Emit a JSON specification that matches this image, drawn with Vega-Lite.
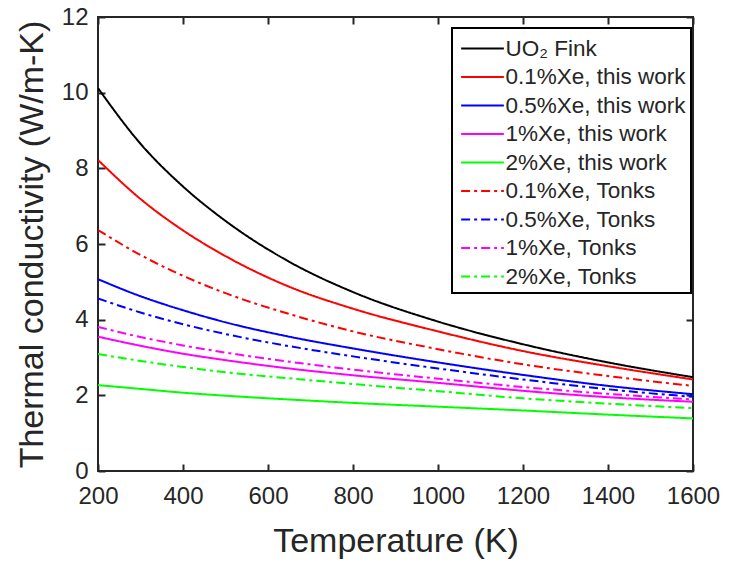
{
  "$schema": "https://vega.github.io/schema/vega-lite/v6.json",
  "width": 595,
  "height": 454,
  "autosize": "none",
  "padding": {"left": 98, "top": 17, "right": 48, "bottom": 96},
  "background": "white",
  "config": {
    "font": "Liberation Sans",
    "view": {"stroke": "#262626", "strokeWidth": 2},
    "axis": {
      "grid": false,
      "domain": false,
      "ticks": true,
      "tickColor": "#262626",
      "tickWidth": 2,
      "labelColor": "#262626",
      "titleColor": "#262626",
      "labelFontSize": 24,
      "titleFontSize": 34,
      "titleFontWeight": "normal",
      "labelOverlap": false,
      "labelFlush": false,
      "labelBound": false
    },
    "legend": {
      "orient": "none",
      "legendX": 354,
      "legendY": 11,
      "padding": 5,
      "strokeColor": "#000000",
      "strokeWidth": 2,
      "fillColor": "white",
      "labelFontSize": 22.5,
      "labelColor": "#262626",
      "labelLimit": 400,
      "labelOffset": 7.5,
      "rowPadding": 1.5,
      "symbolOffset": 10,
      "symbolType": "M-1.5,0H1.5",
      "symbolSize": 812,
      "symbolStrokeWidth": 2
    }
  },
  "data": {
    "values": [
      {"T": 200, "k": 10.12, "s": "UO₂ Fink"},
      {"T": 300, "k": 8.65, "s": "UO₂ Fink"},
      {"T": 400, "k": 7.52, "s": "UO₂ Fink"},
      {"T": 500, "k": 6.61, "s": "UO₂ Fink"},
      {"T": 650, "k": 5.53, "s": "UO₂ Fink"},
      {"T": 800, "k": 4.73, "s": "UO₂ Fink"},
      {"T": 1000, "k": 3.95, "s": "UO₂ Fink"},
      {"T": 1200, "k": 3.35, "s": "UO₂ Fink"},
      {"T": 1400, "k": 2.87, "s": "UO₂ Fink"},
      {"T": 1600, "k": 2.48, "s": "UO₂ Fink"},

      {"T": 200, "k": 8.22, "s": "0.1%Xe, this work"},
      {"T": 300, "k": 7.19, "s": "0.1%Xe, this work"},
      {"T": 400, "k": 6.36, "s": "0.1%Xe, this work"},
      {"T": 500, "k": 5.68, "s": "0.1%Xe, this work"},
      {"T": 650, "k": 4.87, "s": "0.1%Xe, this work"},
      {"T": 800, "k": 4.29, "s": "0.1%Xe, this work"},
      {"T": 1000, "k": 3.69, "s": "0.1%Xe, this work"},
      {"T": 1200, "k": 3.17, "s": "0.1%Xe, this work"},
      {"T": 1400, "k": 2.77, "s": "0.1%Xe, this work"},
      {"T": 1600, "k": 2.42, "s": "0.1%Xe, this work"},

      {"T": 200, "k": 5.07, "s": "0.5%Xe, this work"},
      {"T": 300, "k": 4.62, "s": "0.5%Xe, this work"},
      {"T": 400, "k": 4.25, "s": "0.5%Xe, this work"},
      {"T": 500, "k": 3.93, "s": "0.5%Xe, this work"},
      {"T": 650, "k": 3.55, "s": "0.5%Xe, this work"},
      {"T": 800, "k": 3.24, "s": "0.5%Xe, this work"},
      {"T": 1000, "k": 2.87, "s": "0.5%Xe, this work"},
      {"T": 1200, "k": 2.54, "s": "0.5%Xe, this work"},
      {"T": 1400, "k": 2.25, "s": "0.5%Xe, this work"},
      {"T": 1600, "k": 2.03, "s": "0.5%Xe, this work"},

      {"T": 200, "k": 3.55, "s": "1%Xe, this work"},
      {"T": 300, "k": 3.31, "s": "1%Xe, this work"},
      {"T": 400, "k": 3.10, "s": "1%Xe, this work"},
      {"T": 500, "k": 2.93, "s": "1%Xe, this work"},
      {"T": 650, "k": 2.71, "s": "1%Xe, this work"},
      {"T": 800, "k": 2.53, "s": "1%Xe, this work"},
      {"T": 1000, "k": 2.33, "s": "1%Xe, this work"},
      {"T": 1200, "k": 2.12, "s": "1%Xe, this work"},
      {"T": 1400, "k": 1.95, "s": "1%Xe, this work"},
      {"T": 1600, "k": 1.83, "s": "1%Xe, this work"},

      {"T": 200, "k": 2.27, "s": "2%Xe, this work"},
      {"T": 300, "k": 2.17, "s": "2%Xe, this work"},
      {"T": 400, "k": 2.07, "s": "2%Xe, this work"},
      {"T": 500, "k": 1.99, "s": "2%Xe, this work"},
      {"T": 650, "k": 1.89, "s": "2%Xe, this work"},
      {"T": 800, "k": 1.80, "s": "2%Xe, this work"},
      {"T": 1000, "k": 1.70, "s": "2%Xe, this work"},
      {"T": 1200, "k": 1.60, "s": "2%Xe, this work"},
      {"T": 1400, "k": 1.49, "s": "2%Xe, this work"},
      {"T": 1600, "k": 1.39, "s": "2%Xe, this work"},

      {"T": 200, "k": 6.37, "s": "0.1%Xe, Tonks"},
      {"T": 300, "k": 5.71, "s": "0.1%Xe, Tonks"},
      {"T": 400, "k": 5.16, "s": "0.1%Xe, Tonks"},
      {"T": 500, "k": 4.70, "s": "0.1%Xe, Tonks"},
      {"T": 650, "k": 4.15, "s": "0.1%Xe, Tonks"},
      {"T": 800, "k": 3.69, "s": "0.1%Xe, Tonks"},
      {"T": 1000, "k": 3.22, "s": "0.1%Xe, Tonks"},
      {"T": 1200, "k": 2.82, "s": "0.1%Xe, Tonks"},
      {"T": 1400, "k": 2.51, "s": "0.1%Xe, Tonks"},
      {"T": 1600, "k": 2.25, "s": "0.1%Xe, Tonks"},

      {"T": 200, "k": 4.56, "s": "0.5%Xe, Tonks"},
      {"T": 300, "k": 4.19, "s": "0.5%Xe, Tonks"},
      {"T": 400, "k": 3.88, "s": "0.5%Xe, Tonks"},
      {"T": 500, "k": 3.62, "s": "0.5%Xe, Tonks"},
      {"T": 650, "k": 3.30, "s": "0.5%Xe, Tonks"},
      {"T": 800, "k": 3.03, "s": "0.5%Xe, Tonks"},
      {"T": 1000, "k": 2.71, "s": "0.5%Xe, Tonks"},
      {"T": 1200, "k": 2.42, "s": "0.5%Xe, Tonks"},
      {"T": 1400, "k": 2.16, "s": "0.5%Xe, Tonks"},
      {"T": 1600, "k": 1.96, "s": "0.5%Xe, Tonks"},

      {"T": 200, "k": 3.81, "s": "1%Xe, Tonks"},
      {"T": 300, "k": 3.54, "s": "1%Xe, Tonks"},
      {"T": 400, "k": 3.32, "s": "1%Xe, Tonks"},
      {"T": 500, "k": 3.13, "s": "1%Xe, Tonks"},
      {"T": 650, "k": 2.89, "s": "1%Xe, Tonks"},
      {"T": 800, "k": 2.68, "s": "1%Xe, Tonks"},
      {"T": 1000, "k": 2.44, "s": "1%Xe, Tonks"},
      {"T": 1200, "k": 2.22, "s": "1%Xe, Tonks"},
      {"T": 1400, "k": 2.04, "s": "1%Xe, Tonks"},
      {"T": 1600, "k": 1.89, "s": "1%Xe, Tonks"},

      {"T": 200, "k": 3.09, "s": "2%Xe, Tonks"},
      {"T": 300, "k": 2.91, "s": "2%Xe, Tonks"},
      {"T": 400, "k": 2.75, "s": "2%Xe, Tonks"},
      {"T": 500, "k": 2.61, "s": "2%Xe, Tonks"},
      {"T": 650, "k": 2.45, "s": "2%Xe, Tonks"},
      {"T": 800, "k": 2.30, "s": "2%Xe, Tonks"},
      {"T": 1000, "k": 2.11, "s": "2%Xe, Tonks"},
      {"T": 1200, "k": 1.92, "s": "2%Xe, Tonks"},
      {"T": 1400, "k": 1.78, "s": "2%Xe, Tonks"},
      {"T": 1600, "k": 1.66, "s": "2%Xe, Tonks"}
    ]
  },
  "resolve": {
    "scale": {"x": "independent", "y": "independent"},
    "axis": {"x": "independent", "y": "independent"}
  },
  "layer": [
    {
      "mark": {"type": "line", "interpolate": "monotone", "strokeWidth": 2, "clip": true},
      "encoding": {
        "x": {
          "field": "T",
          "type": "quantitative",
          "scale": {"domain": [200, 1600], "nice": false, "zero": false},
          "axis": {
            "title": "Temperature (K)",
            "values": [200, 400, 600, 800, 1000, 1200, 1400, 1600],
            "format": "d",
            "tickSize": -7,
            "labelPadding": 20,
            "titlePadding": 16
          }
        },
        "y": {
          "field": "k",
          "type": "quantitative",
          "scale": {"domain": [0, 12], "nice": false},
          "axis": {
            "title": "Thermal conductivity (W/m-K)",
            "values": [0, 2, 4, 6, 8, 10, 12],
            "tickSize": -7,
            "labelPadding": 17,
            "titlePadding": 12
          }
        },
        "color": {
          "field": "s",
          "type": "nominal",
          "title": null,
          "scale": {
            "domain": ["UO₂ Fink", "0.1%Xe, this work", "0.5%Xe, this work", "1%Xe, this work", "2%Xe, this work", "0.1%Xe, Tonks", "0.5%Xe, Tonks", "1%Xe, Tonks", "2%Xe, Tonks"],
            "range": ["#000000", "#ff0000", "#0000ff", "#ff00ff", "#00ff00", "#ff0000", "#0000ff", "#ff00ff", "#00ff00"]
          }
        },
        "strokeDash": {
          "field": "s",
          "type": "nominal",
          "title": null,
          "scale": {
            "domain": ["UO₂ Fink", "0.1%Xe, this work", "0.5%Xe, this work", "1%Xe, this work", "2%Xe, this work", "0.1%Xe, Tonks", "0.5%Xe, Tonks", "1%Xe, Tonks", "2%Xe, Tonks"],
            "range": [[1, 0], [1, 0], [1, 0], [1, 0], [1, 0], [9, 4, 3, 4], [9, 4, 3, 4], [9, 4, 3, 4], [9, 4, 3, 4]]
          }
        }
      }
    },
    {
      "mark": {"type": "line", "strokeOpacity": 0},
      "encoding": {
        "x": {
          "field": "T",
          "type": "quantitative",
          "scale": {"domain": [200, 1600], "nice": false, "zero": false},
          "axis": {"orient": "top", "title": null, "labels": false, "ticks": true, "tickColor": "#262626", "tickWidth": 2, "values": [200, 400, 600, 800, 1000, 1200, 1400, 1600], "tickSize": -7}
        },
        "y": {
          "field": "k",
          "type": "quantitative",
          "scale": {"domain": [0, 12], "nice": false},
          "axis": {"orient": "right", "title": null, "labels": false, "ticks": true, "tickColor": "#262626", "tickWidth": 2, "values": [0, 2, 4, 6, 8, 10, 12], "tickSize": -7}
        },
        "detail": {"field": "s", "type": "nominal"}
      }
    }
  ]
}
